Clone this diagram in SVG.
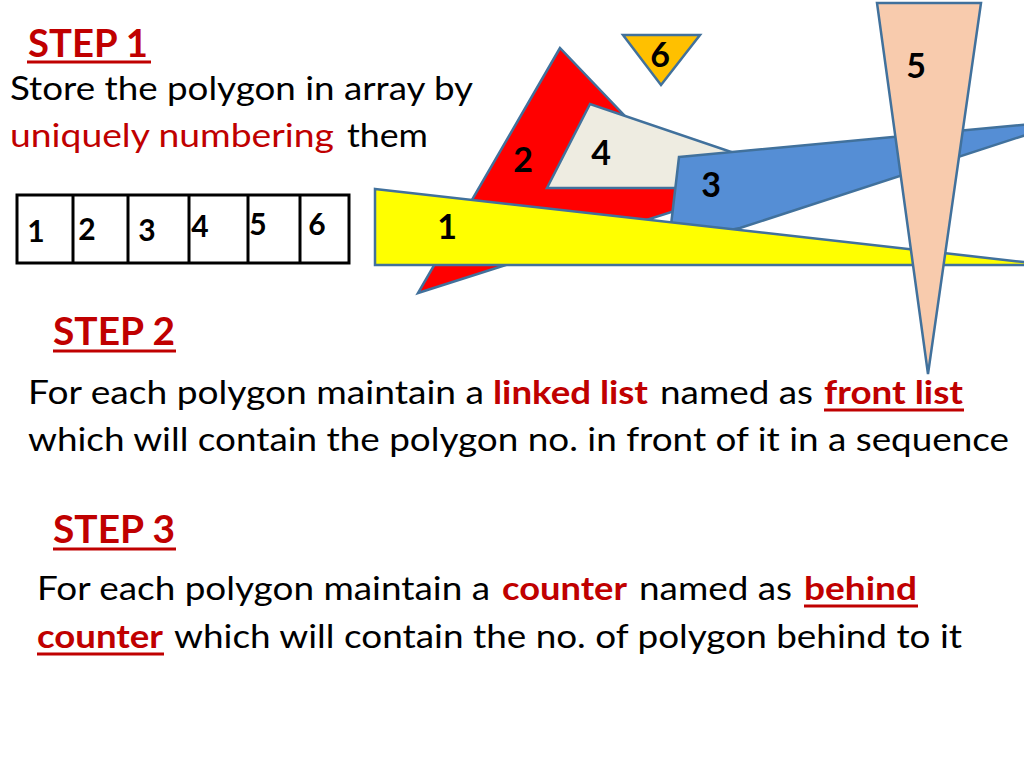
<svg xmlns="http://www.w3.org/2000/svg" width="1024" height="768" viewBox="0 0 1024 768">
<style>
.poly{stroke:#41719C;stroke-width:2.5;stroke-linejoin:miter}
.num{font-family:Lato,"Liberation Sans",sans-serif;font-weight:bold;font-size:34px;fill:#000;text-anchor:middle}
.anum{font-family:Lato,"Liberation Sans",sans-serif;font-weight:bold;font-size:30px;fill:#000;text-anchor:middle}
.step{font-family:Lato,"Liberation Sans",sans-serif;font-weight:bold;font-size:39px;fill:#C00000}
.body{font-family:Lato,"Liberation Sans",sans-serif;font-size:32px;fill:#000}
.red{fill:#C00000}
.bold{font-weight:bold}
.ul{stroke:#C00000;stroke-width:3}
.cell{fill:#fff;stroke:#000;stroke-width:3}
.div{stroke:#000;stroke-width:3}
</style>
<rect width="1024" height="768" fill="#fff"/>

<g id="polygon-2">
<polygon class="poly" points="560,48 418,293 706,201" fill="#FF0000"/>
</g>
<g id="polygon-4">
<polygon class="poly" points="590,104 547,188 837,188" fill="#EEECE1"/>
</g>
<g id="polygon-3">
<polygon class="poly" points="679,157 1032,124 1032,133 740,228 669,242" fill="#558ED5"/>
</g>
<g id="polygon-1">
<polygon class="poly" points="375,189 1050,265 375,265" fill="#FFFF00"/>
</g>
<g id="polygon-5">
<polygon class="poly" points="877,3 981,3 928,374" fill="#F8CBAD"/>
</g>
<g id="polygon-6">
<polygon class="poly" points="623,35 700,35 661,85" fill="#FFC000"/>
</g>
<g id="polygon-labels">
<text class="num" x="523" y="172">2</text>
<text class="num" x="601" y="165">4</text>
<text class="num" x="711" y="197">3</text>
<text class="num" x="447" y="239">1</text>
<text class="num" x="916" y="78">5</text>
<text class="num" x="660" y="67">6</text>
</g>

<g id="array">
<rect class="cell" x="17" y="195" width="332" height="68"/>
<line class="div" x1="73" y1="195" x2="73" y2="263"/>
<line class="div" x1="128" y1="195" x2="128" y2="263"/>
<line class="div" x1="189" y1="195" x2="189" y2="263"/>
<line class="div" x1="248" y1="195" x2="248" y2="263"/>
<line class="div" x1="300" y1="195" x2="300" y2="263"/>
<text class="anum" x="36" y="242">1</text>
<text class="anum" x="87" y="240">2</text>
<text class="anum" x="147" y="241">3</text>
<text class="anum" x="200" y="237">4</text>
<text class="anum" x="258" y="235">5</text>
<text class="anum" x="317" y="235">6</text>
</g>

<g id="connectors"/>

<g id="step1">
<text class="step" x="28" y="57" textLength="120" lengthAdjust="spacingAndGlyphs">STEP 1</text>
<line class="ul" x1="27" y1="62" x2="151" y2="62"/>
<text class="body" x="10" y="100" textLength="463" lengthAdjust="spacingAndGlyphs">Store the polygon in array by</text>
<text class="body red" x="10" y="147" textLength="324" lengthAdjust="spacingAndGlyphs">uniquely numbering</text>
<text class="body" x="347" y="147" textLength="81" lengthAdjust="spacingAndGlyphs">them</text>
</g>

<g id="step2">
<text class="step" x="53" y="345" textLength="122" lengthAdjust="spacingAndGlyphs">STEP 2</text>
<line class="ul" x1="53" y1="351" x2="176" y2="351"/>
<text class="body" x="28" y="404" textLength="456" lengthAdjust="spacingAndGlyphs">For each polygon maintain a</text>
<text class="body red bold" x="493" y="404" textLength="155" lengthAdjust="spacingAndGlyphs">linked list</text>
<text class="body" x="660" y="404" textLength="153" lengthAdjust="spacingAndGlyphs">named as</text>
<text class="body red bold" x="824" y="404" textLength="139" lengthAdjust="spacingAndGlyphs">front list</text>
<line class="ul" x1="824" y1="410" x2="964" y2="410"/>
<text class="body" x="28" y="451" textLength="981" lengthAdjust="spacingAndGlyphs">which will contain the polygon no. in front of it in a sequence</text>
</g>

<g id="step3">
<text class="step" x="53" y="543" textLength="122" lengthAdjust="spacingAndGlyphs">STEP 3</text>
<line class="ul" x1="53" y1="549" x2="176" y2="549"/>
<text class="body" x="37" y="600" textLength="453" lengthAdjust="spacingAndGlyphs">For each polygon maintain a</text>
<text class="body red bold" x="502" y="600" textLength="125" lengthAdjust="spacingAndGlyphs">counter</text>
<text class="body" x="639" y="600" textLength="153" lengthAdjust="spacingAndGlyphs">named as</text>
<text class="body red bold" x="804" y="600" textLength="113" lengthAdjust="spacingAndGlyphs">behind</text>
<line class="ul" x1="804" y1="606" x2="918" y2="606"/>
<text class="body red bold" x="37" y="648" textLength="126" lengthAdjust="spacingAndGlyphs">counter</text>
<line class="ul" x1="37" y1="654" x2="164" y2="654"/>
<text class="body" x="174" y="648" textLength="788" lengthAdjust="spacingAndGlyphs">which will contain the no. of polygon behind to it</text>
</g>
</svg>
